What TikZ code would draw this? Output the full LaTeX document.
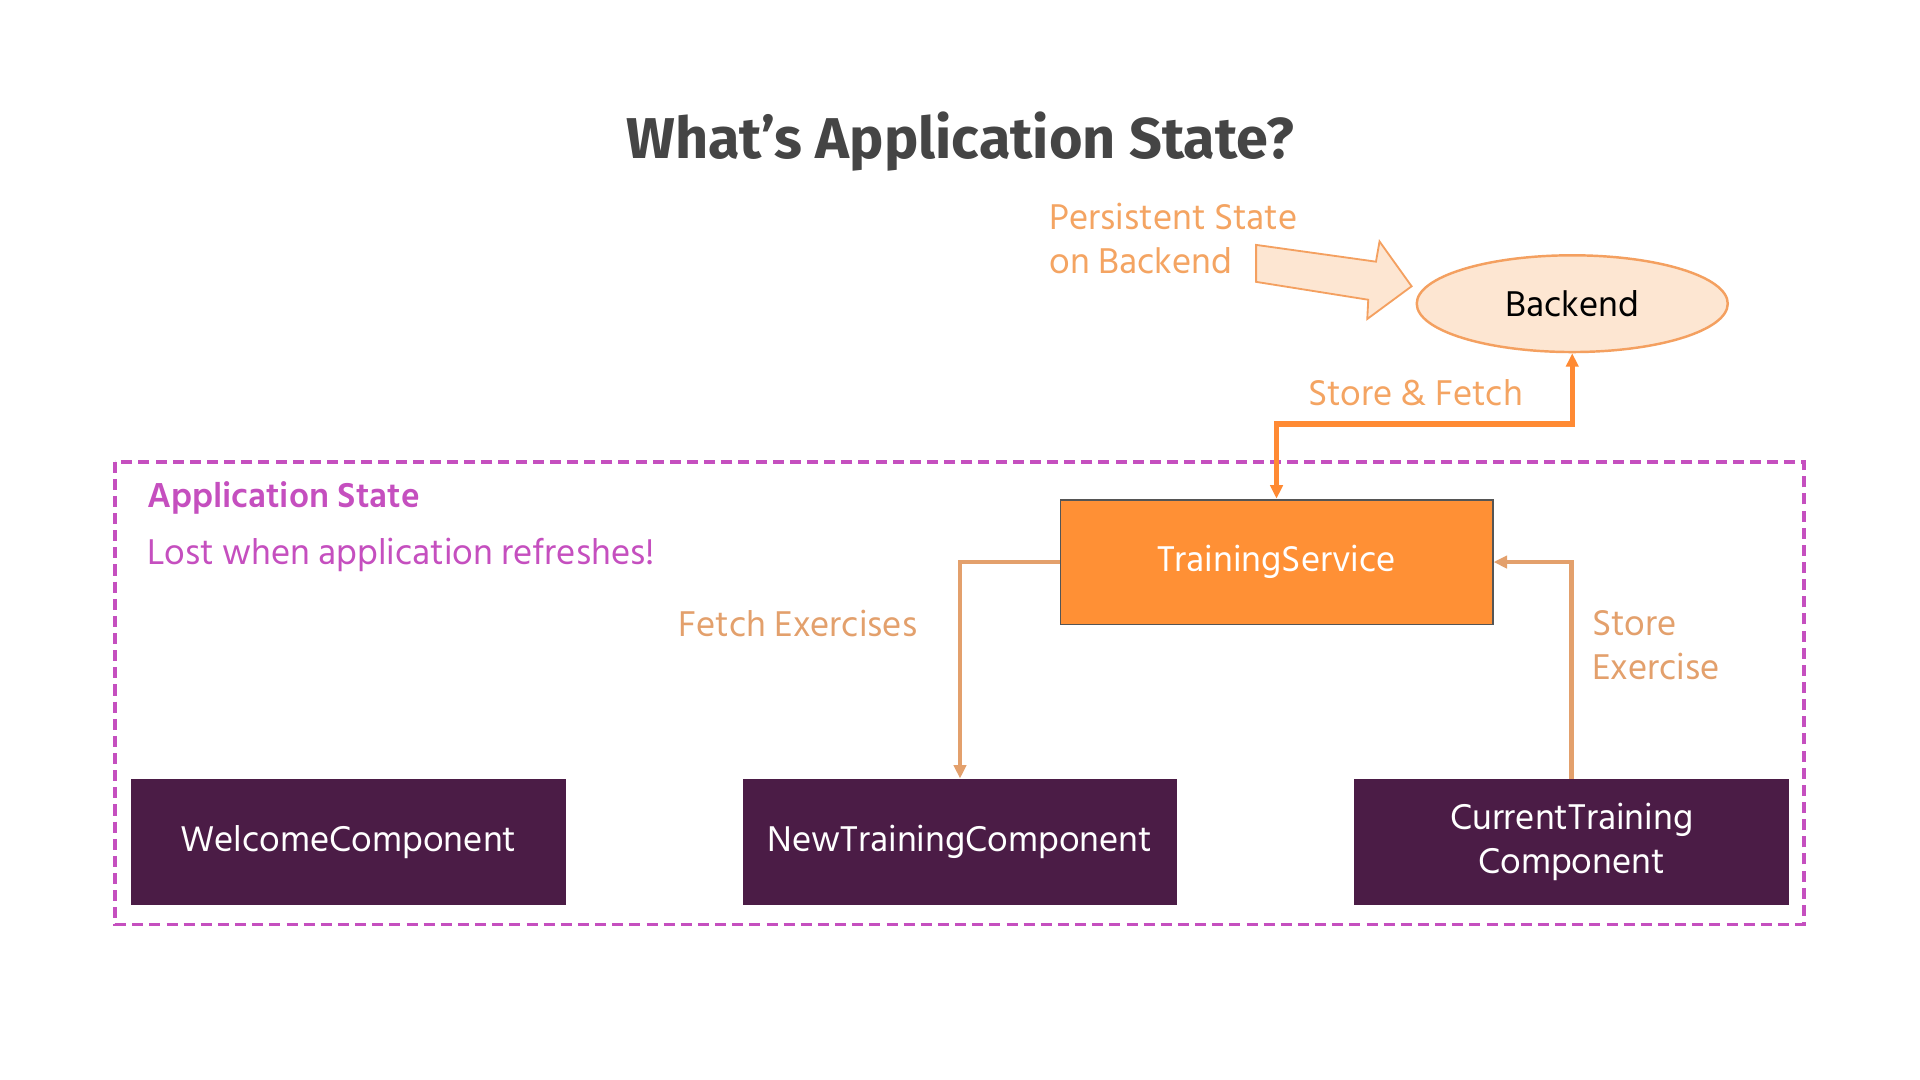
\documentclass[tikz,border=0pt]{standalone}
\usepackage{fontspec}
\setmainfont{Hind Siliguri}
\newfontfamily\titlefont{Fira Sans}
\usetikzlibrary{arrows.meta,shapes.geometric}
\definecolor{titlegray}{HTML}{454545}
\definecolor{peachtxt}{HTML}{F4A462}
\definecolor{peachfill}{HTML}{FDE6D2}
\definecolor{peachline}{HTML}{F4A060}
\definecolor{sforange}{HTML}{FF8A33}
\definecolor{tsorange}{HTML}{FF9035}
\definecolor{tsborder}{HTML}{555555}
\definecolor{tan}{HTML}{E3A06C}
\definecolor{magentaapp}{HTML}{C54FBF}
\definecolor{darkpurple}{HTML}{4B1C46}
\tikzset{
  bodyfont/.style={font=\fontsize{30}{36}\selectfont},
  compbox/.style={draw=none, fill=darkpurple, text=white, minimum width=355pt, minimum height=103pt, inner sep=0pt, align=center, bodyfont},
  tsbox/.style={draw=tsborder, line width=1.5pt, fill=tsorange, text=white, minimum width=353pt, minimum height=102pt, inner sep=0pt, bodyfont},
  tip/.style={-{Triangle[length=11pt,width=10pt]}},
  sfline/.style={draw=sforange, line width=4.5pt},
  tanline/.style={draw=tan, line width=3.8pt},
  lbl/.style={anchor=west, inner sep=0pt, bodyfont, align=left}
}
\begin{document}
\begin{tikzpicture}[x=1pt,y=-1pt]
\useasboundingbox (0,0) rectangle (1568,882);
\fill[white] (0,0) rectangle (1568,882);
% title
\node[font=\titlefont\bfseries\fontsize{47}{56}\selectfont, text=titlegray] (title) at (784,116) {What’s Application State?};
% application state box
\draw[magentaapp, line width=3.2pt, dash pattern=on 9pt off 5pt] (94,377) rectangle (1473,755);
\node[lbl, text=magentaapp, font=\bfseries\fontsize{29}{36}\selectfont] (apptitle) at (120,407) {Application State};
\node[lbl, text=magentaapp] (applost) at (120,453) {Lost when application refreshes!};
% backend
\node[draw=peachline, line width=2pt, fill=peachfill, ellipse, minimum width=254pt, minimum height=79pt, inner sep=0pt, bodyfont] (backend) at (1284,248) {Backend};
\node[lbl, text=peachtxt] (persist) at (857,195) {Persistent State\\on Backend};
\filldraw[draw=peachline, fill=peachfill, line width=1.5pt, line join=miter]
  (1025.8,200) -- (1123.7,213.7) -- (1126.6,197.2) -- (1152.8,233.8) -- (1116.6,260.5) -- (1117.4,244.8) -- (1025.8,230.2) -- cycle;
% training service
\node[tsbox] (ts) at (1042.5,459) {TrainingService};
% components
\node[compbox] (welcome) at (284.5,687.5) {WelcomeComponent};
\node[compbox] (newtc) at (784,687.5) {NewTrainingComponent};
\node[compbox] (curtc) at (1283.5,687.5) {CurrentTraining\\Component};
% connectors
\draw[sfline, {Triangle[length=11pt,width=10pt]}-{Triangle[length=11pt,width=10pt]}] (ts.north) -- ++(0,-61) -| (backend.south);
\node[lbl, text=peachtxt] (sflabel) at (1068,321) {Store \& Fetch};
\draw[tanline, tip] (ts.west) -| (newtc.north);
\node[lbl, text=tan] (fetchlbl) at (554,509) {Fetch Exercises};
\draw[tanline, tip] (curtc.north) |- (ts.east);
\node[lbl, text=tan] (storelbl) at (1300,527) {Store\\Exercise};
\end{tikzpicture}
\end{document}
